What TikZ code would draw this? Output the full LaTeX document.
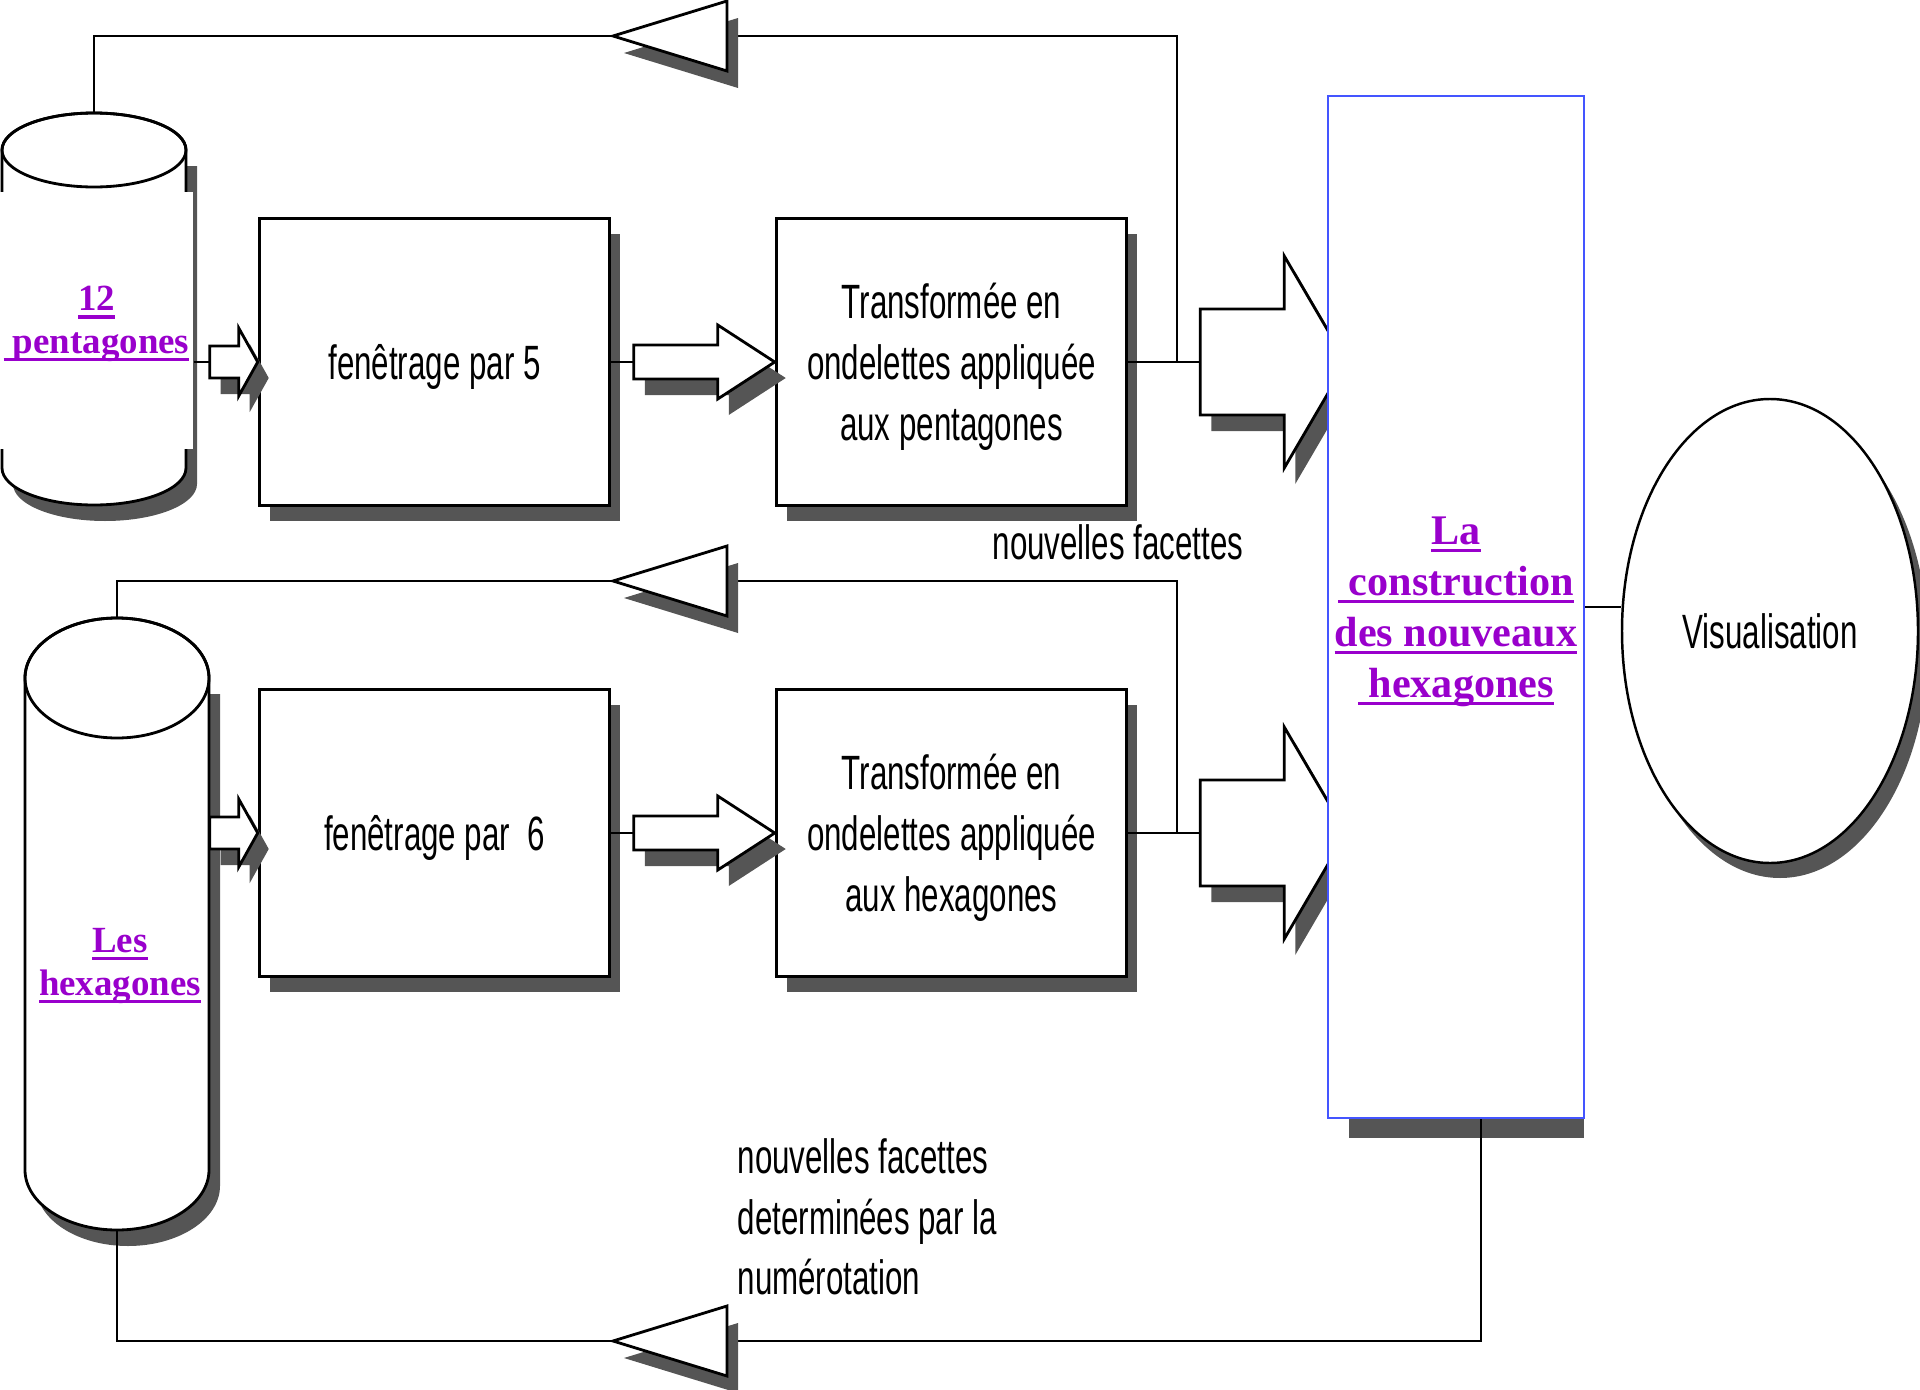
\documentclass[tikz,border=0pt]{standalone}
\usepackage{fontspec}
\usepackage{tikz}
\usetikzlibrary{calc,shadows,shapes.geometric}
\setmainfont{Liberation Serif}
\newfontfamily\boxfont[FakeStretch=0.65]{Liberation Sans}
\definecolor{linkpurple}{HTML}{9900CC}
\definecolor{linkblue}{HTML}{4455FF}
\definecolor{shadowgray}{HTML}{555555}

% underlined link text
\newcommand{\lnk}[1]{\setbox0=\hbox{#1}\rlap{\rule[-2.2pt]{\wd0}{0.9pt}}\box0}
% standing cylinder: name, centre x, top y, bottom y, x radius, y radius
\newcommand{\drum}[6]{%
  \fill[shadowgray] (#2-#5+11,#3+16) -- (#2-#5+11,#4+16) arc (180:0:#5 and #6) -- (#2+#5+11,#3+16) -- cycle;
  \filldraw[fill=white,line width=0.8pt] (#2-#5,#3) -- (#2-#5,#4) arc (180:0:#5 and #6) -- (#2+#5,#3) arc (0:-180:#5 and #6) -- cycle;
  \draw[line width=0.8pt] (#2,#3) ellipse (#5 and #6);
  \coordinate (#1-top) at (#2,#3-#6);
  \coordinate (#1-bottom) at (#2,#4+#6);
  \coordinate (#1-east) at (#2+#5,#3);
}
% block arrow ending at #1: length, half shaft, half head, head length
\newcommand{\blockarrow}[5]{%
  \fill[shadowgray] ($(#1)+(11,16)$) -- ++(-#5,-#4) -- ++(0,#4-#3) -- ++(#5-#2,0) -- ++(0,2*#3) -- ++(#2-#5,0) -- ++(0,#4-#3) -- cycle;
  \filldraw[fill=white,line width=0.8pt] (#1) -- ++(-#5,-#4) -- ++(0,#4-#3) -- ++(#5-#2,0) -- ++(0,2*#3) -- ++(#2-#5,0) -- ++(0,#4-#3) -- cycle;
}
% open triangle on the return lines
\newcommand{\backtip}[1]{%
  \fill[shadowgray] ($(#1)+(11,17)$) -- ++(114,-35) -- ++(0,70) -- cycle;
  \filldraw[fill=white,line width=0.8pt] (#1) -- ++(114,-35) -- ++(0,70) -- cycle;
}

\begin{document}
\begin{tikzpicture}[x=0.1mm,y=-0.1mm]
\tikzstyle{procbox}=[draw,line width=1pt,fill=white,minimum width=35mm,minimum height=28.7mm,text depth=-0.7pt,align=center,font=\boxfont\fontsize{13.7}{17.4}\selectfont,drop shadow={shadow xshift=1mm,shadow yshift=-1.5mm,opacity=1,fill=shadowgray}]
\tikzstyle{linklbl}=[inner sep=0pt,text depth=-1.1pt,align=center,text=linkpurple,font=\bfseries\fontsize{10.5}{12.2}\selectfont]
\tikzstyle{note}=[inner sep=0pt,font=\boxfont\fontsize{13.7}{17.2}\selectfont]
\tikzstyle{wire}=[line width=0.6pt]
\useasboundingbox (0,0) rectangle (1920,1390);

\drum{pent}{94}{150}{468}{92}{37}
\drum{hex}{117}{678}{1170}{92}{60}
\node[linklbl,fill=white,minimum width=19.3mm,minimum height=25.7mm] (pentlbl) at (96.5,320) {\lnk{12}\\\lnk{\ pentagones}};
\node[linklbl] (hexlbl) at (120,962) {\lnk{Les}\\\lnk{hexagones}};

\node[procbox] (fen5) at (434.5,362) {fenêtrage par 5};
\node[procbox] (ond5) at (951.5,362) {Transformée en\\ondelettes appliquée\\aux pentagones};
\node[procbox] (fen6) at (434.5,833) {fenêtrage par\ \ 6};
\node[procbox] (ond6) at (951.5,833) {Transformée en\\ondelettes appliquée\\aux hexagones};

\node[ellipse,draw,line width=0.7pt,fill=white,minimum width=29.6mm,minimum height=46.4mm,font=\boxfont\fontsize{13.7}{17.4}\selectfont,drop shadow={shadow xshift=1mm,shadow yshift=-1.5mm,opacity=1,fill=shadowgray}] (visu) at (1770,631) {Visualisation};

\node[note] (newfac) at (1118,542) {nouvelles facettes};
\node[note,align=left,anchor=west] (numtxt) at (737,1217) {nouvelles facettes\\determinées par la\\numérotation};

\coordinate (a1) at ($(fen5.west)+(-48,0)$);
\coordinate (a2) at ($(ond5.west)+(-141,0)$);
\coordinate (t3) at ($(ond5.east)+(218,0)$);
\coordinate (a3) at ($(t3)+(-146,0)$);
\coordinate (j1) at ($(ond5.east)+(49,0)$);
\coordinate (fb1) at (613,36);
\coordinate (a4) at ($(fen6.west)+(-48,0)$);
\coordinate (a5) at ($(ond6.west)+(-141,0)$);
\coordinate (t6) at ($(ond6.east)+(218,0)$);
\coordinate (a6) at ($(t6)+(-146,0)$);
\coordinate (j2) at ($(ond6.east)+(49,0)$);
\coordinate (fb2) at (613,581);
\coordinate (fb3) at (613,1341);

\draw[wire] (pentlbl.east |- a1) -- (a1);
\draw[wire] (fen5.east) -- (a2);
\draw[wire] (ond5.east) -- (a3);
\draw[wire] (j1) |- (fb1) -| (pent-top);
\draw[wire] (hex-east |- a4) -- (a4);
\draw[wire] (fen6.east) -- (a5);
\draw[wire] (ond6.east) -- (a6);
\draw[wire] (j2) |- (fb2) -| (hex-top);

\blockarrow{fen5.west}{48}{16}{34}{19}
\blockarrow{ond5.west}{141}{17}{37}{57}
\blockarrow{t3}{146}{53}{106}{62}
\blockarrow{fen6.west}{48}{16}{34}{19}
\blockarrow{ond6.west}{141}{17}{37}{57}
\blockarrow{t6}{146}{53}{106}{62}

\fill[shadowgray] (1349,1119) rectangle (1584,1138);
\node[draw=linkblue,line width=0.8pt,fill=white,minimum width=25.6mm,minimum height=102.2mm,inner sep=0pt,text depth=-2pt,align=center,text=linkpurple,font=\bfseries\fontsize{12}{14.5}\selectfont] (constr) at (1456,607) {\lnk{La}\\\lnk{\ construction}\\\lnk{des nouveaux}\\\lnk{\ hexagones}};
\coordinate (j3) at ($(constr.south)+(25,0)$);
\draw[wire] (j3) |- (fb3) -| (hex-bottom);
\draw[wire] (constr.east) -- (constr.east -| visu.west);

\backtip{fb1}
\backtip{fb2}
\backtip{fb3}
\end{tikzpicture}
\end{document}
